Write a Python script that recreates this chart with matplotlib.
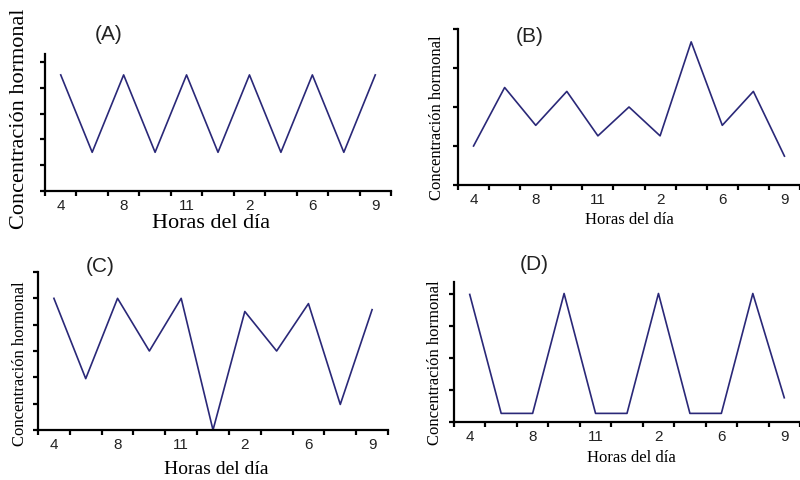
import matplotlib
matplotlib.use('Agg')
import matplotlib.pyplot as plt

W, H = 800, 481

# hour of each reading (only every other one is labelled)
hour_labels = ['4', '8', '11', '2', '6', '9']
n_points = 11

conc_a = [4.5, 1.5, 4.5, 1.5, 4.5, 1.5, 4.5, 1.5, 4.5, 1.5, 4.5]
conc_b = [1.0, 2.5, 1.53, 2.4, 1.26, 2.0, 1.26, 3.67, 1.53, 2.4, 0.74]
conc_c = [5.0, 1.95, 5.0, 3.0, 5.0, 0.0, 4.5, 3.0, 4.8, 0.97, 4.57]
conc_d = [4.0, 0.27, 0.27, 4.03, 0.27, 0.27, 4.03, 0.27, 0.27, 4.03, 0.76]

LINE = '#2a2878'
SERIF = ['Liberation Serif', 'DejaVu Serif']
SANS = ['Liberation Sans', 'DejaVu Sans']


def px_axes(fig, left, top, right, bottom):
    return fig.add_axes([left / W, 1 - bottom / H, (right - left) / W, (bottom - top) / H])


def panel(fig, box, values, ymax, yticks, xmax, tick_fs):
    ax = px_axes(fig, *box)
    x = list(range(n_points))
    ax.plot(x, values, color=LINE, lw=1.2, clip_on=False)
    ax.set_xlim(-0.5, xmax)
    ax.set_ylim(0, ymax)
    for s in ['top', 'right']:
        ax.spines[s].set_visible(False)
    for s in ['left', 'bottom']:
        ax.spines[s].set_linewidth(1.6)
    ax.set_xticks(x[::2], hour_labels, fontfamily=SANS, fontsize=tick_fs, color='#222222')
    ax.tick_params(axis='x', which='major', length=0, pad=5)
    ax.set_xticks([i - 0.5 for i in range(n_points + 1)], minor=True)
    ax.tick_params(axis='x', which='minor', length=3.5, width=1.6)
    ax.set_yticks(yticks)
    ax.set_yticklabels([])
    ax.tick_params(axis='y', length=3.5, width=1.6)
    ax.patch.set_alpha(0)
    return ax


def txt(fig, x, y, s, **kw):
    fig.text(x / W, 1 - y / H, s, ha='center', va='center', **kw)


fig = plt.figure(figsize=(W / 100, H / 100), dpi=100)

# (A)
panel(fig, (45, 55, 391, 192), conc_a, 5.31, range(6), 10.5, 11)
txt(fig, 109, 34, '(A)', family=SANS, fontsize=15, color='#222222')
txt(fig, 20, 119, 'Concentración hormonal', family=SERIF, fontsize=16, rotation=90)
txt(fig, 211, 223, 'Horas del día', family=SERIF, fontsize=16)

# (B)
panel(fig, (458, 30, 800, 186), conc_b, 4, range(5), 10.32, 11)
txt(fig, 530, 37, '(B)', family=SANS, fontsize=15, color='#222222')
txt(fig, 437, 118, 'Concentración hormonal', family=SERIF, fontsize=12, rotation=90)
txt(fig, 629, 220, 'Horas del día', family=SERIF, fontsize=12)

# (C)
panel(fig, (38, 273, 388, 431), conc_c, 6, range(7), 10.5, 11)
txt(fig, 100, 266, '(C)', family=SANS, fontsize=15, color='#222222')
txt(fig, 20, 364, 'Concentración hormonal', family=SERIF, fontsize=12, rotation=90)
txt(fig, 216, 470, 'Horas del día', family=SERIF, fontsize=14)

# (D)
panel(fig, (454, 283, 800, 423), conc_d, 4.39, range(5), 10.31, 11)
txt(fig, 534, 264, '(D)', family=SANS, fontsize=15, color='#222222')
txt(fig, 435, 363, 'Concentración hormonal', family=SERIF, fontsize=12, rotation=90)
txt(fig, 631, 458, 'Horas del día', family=SERIF, fontsize=12)

fig.savefig('out.png', dpi=100)
